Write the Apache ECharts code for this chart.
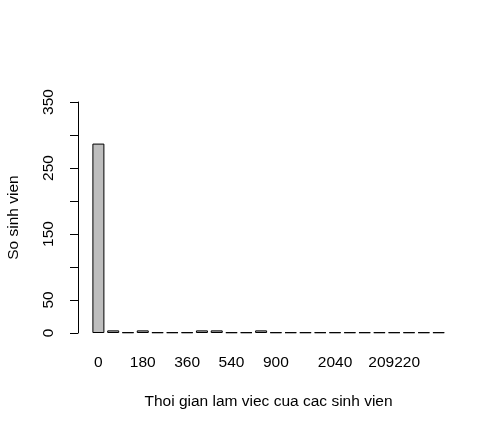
<!DOCTYPE html>
<html>
<head>
<meta charset="utf-8">
<script src="https://cdn.jsdelivr.net/npm/echarts@6/dist/echarts.min.js"></script>
<style>
  html, body { margin: 0; padding: 0; background: #fff; }
  #chart { width: 499px; height: 431px; }
</style>
</head>
<body>
<div id="chart"></div>
<script>
// thoi gian lam viec (categories) va so sinh vien (counts)
var categories = ['0', '60', '120', '180', '240', '300', '360', '420', '480', '540', '600', '720',
                  '900', '1080', '1200', '1440', '2040', '2400', '3000', '3600', '209220', '240000', '300000', '360000'];
var counts = [287, 4, 1, 4, 1, 1, 1, 4, 4, 1, 1, 4, 1, 1, 1, 1, 1, 1, 1, 1, 1, 1, 1, 1];
// nhan duoc hien thi tren truc x (R bo nhan chong nhau)
var shownLabels = [0, 3, 6, 9, 12, 16, 20];
var yTicks = [0, 50, 100, 150, 200, 250, 300, 350];
var yShown = [0, 50, 150, 250, 350];

var chart = echarts.init(document.getElementById('chart'));
var font = 'Liberation Sans, Arial, sans-serif';
var fs = 15.5;

var option = {
    backgroundColor: '#fff',
    animation: false,
    textStyle: { fontFamily: font },
    grid: {
        left: 91,
        right: 53,
        top: 102,
        bottom: 98,
        containLabel: false,
        outerBoundsMode: 'none'
    },
    xAxis: {
        type: 'category',
        data: categories,
        name: 'Thoi gian lam viec cua cac sinh vien',
        nameLocation: 'middle',
        nameGap: 61,
        nameTextStyle: { color: '#000', fontSize: fs, fontFamily: font },
        axisLine: { show: false },
        axisTick: { show: false },
        axisLabel: {
            color: '#000',
            fontSize: fs,
            fontFamily: font,
            margin: 22,
            interval: function (index) {
                return shownLabels.indexOf(index) >= 0;
            }
        }
    },
    yAxis: {
        type: 'value',
        min: yTicks[0],
        max: yTicks[yTicks.length - 1],
        interval: 50,
        offset: 13,
        name: 'So sinh vien',
        nameLocation: 'middle',
        nameGap: 56,
        nameRotate: 90,
        nameTextStyle: { color: '#000', fontSize: fs, fontFamily: font },
        splitLine: { show: false },
        axisLine: { show: true, lineStyle: { color: '#000', width: 1 } },
        axisTick: { show: true, length: 8, lineStyle: { color: '#000', width: 1 } },
        axisLabel: {
            color: '#000',
            fontSize: fs,
            fontFamily: font,
            rotate: 90,
            margin: 21,
            formatter: function (v) {
                return yShown.indexOf(v) >= 0 ? String(v) : '';
            }
        }
    },
    series: [{
        type: 'bar',
        data: counts,
        barWidth: 12,
        itemStyle: {
            color: '#BEBEBE',
            borderColor: '#000',
            borderWidth: 1
        }
    }]
};
chart.setOption(option);
</script>
</body>
</html>
